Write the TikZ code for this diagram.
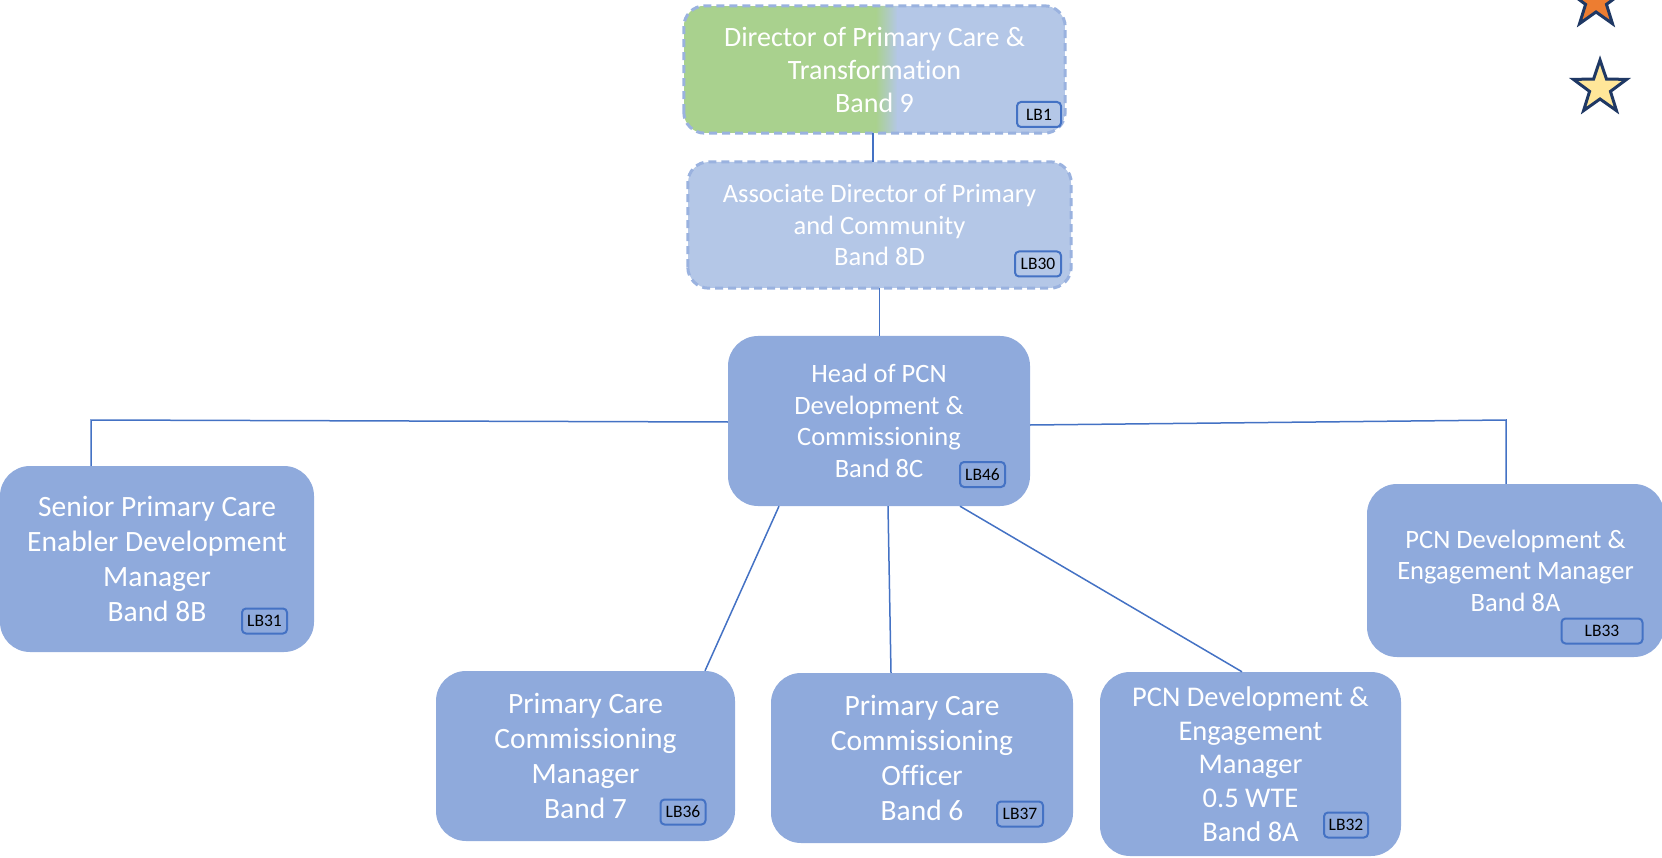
\documentclass[tikz,border=0pt]{standalone}
\usepackage{fontspec}
\setmainfont{Carlito}[Ligatures=NoCommon]
\usetikzlibrary{shapes.geometric,backgrounds,calc}
\definecolor{boxblue}{HTML}{8FAADC}
\definecolor{lightblue}{HTML}{B4C7E7}
\definecolor{dirgreen}{HTML}{A9D18E}
\definecolor{dashblue}{HTML}{9AB2DF}
\definecolor{lineblue}{HTML}{4472C4}
\definecolor{starnavy}{HTML}{1F3864}
\definecolor{starorange}{HTML}{ED7D31}
\definecolor{staryellow}{HTML}{FFE699}
\tikzset{
  rolebox/.style={rectangle, rounded corners=30pt, fill=boxblue, text=white, align=center, inner sep=0pt},
  topbox/.style={rectangle, rounded corners=21pt, text=white, align=center, inner sep=0pt},
  tagbox/.style={rectangle, draw=lineblue, line width=2pt, rounded corners=4pt, text=black, inner sep=0pt, minimum height=25pt, font=\fontsize{17.5pt}{20pt}\selectfont},
  conn/.style={draw=lineblue, line width=1.5pt},
  starshape/.style={star, star points=5, star point ratio=2.55, minimum size=56pt, inner sep=0pt, draw=starnavy, line width=3pt},
  dashborder/.style={draw=dashblue, line width=3pt, dash pattern=on 8pt off 5pt, rounded corners=21pt}
}
\begin{document}
\begin{tikzpicture}[x=1pt,y=-1pt]
\useasboundingbox (0,0) rectangle (1662,858);

% Director
\node[topbox, minimum width=381pt, minimum height=127pt, font=\fontsize{28pt}{33pt}\selectfont] (dir) at (874.5,69.5) {Director of Primary Care \&\\Transformation\\Band 9};
\begin{scope}[on background layer]
  \clip[rounded corners=21pt] (dir.south west) rectangle (dir.north east);
  \fill[dirgreen] (dir.south west) rectangle ([xshift=193pt]dir.north west);
  \shade[left color=dirgreen, right color=lightblue] ([xshift=192pt]dir.south west) rectangle ([xshift=214pt]dir.north west);
  \fill[lightblue] ([xshift=213pt]dir.south west) rectangle (dir.north east);
\end{scope}
\draw[dashborder] (dir.south west) rectangle (dir.north east);
\node[tagbox, minimum width=44pt] (t1) at (1039,114.5) {LB1};

% Associate Director
\node[topbox, fill=lightblue, minimum width=383pt, minimum height=126pt, font=\fontsize{26.5pt}{31.5pt}\selectfont] (assoc) at (879.5,225) {Associate Director of Primary\\and Community\\Band 8D};
\draw[dashborder] (assoc.south west) rectangle (assoc.north east);
\node[tagbox, minimum width=46pt] (t30) at (1038,264) {LB30};

% Head of PCN
\node[rolebox, minimum width=302pt, minimum height=170pt, font=\fontsize{26.5pt}{31.5pt}\selectfont] (head) at (879,421) {Head of PCN\\Development \&\\Commissioning\\Band 8C};
\node[tagbox, minimum width=45pt] (t46) at (982.5,474.5) {LB46};

% Senior
\node[rolebox, minimum width=314pt, minimum height=186pt, font=\fontsize{29.5pt}{35pt}\selectfont] (senior) at (157,559) {Senior Primary Care\\Enabler Development\\Manager\\Band 8B};
\node[tagbox, minimum width=45pt] (t31) at (264.5,621) {LB31};

% PCN right
\node[rolebox, minimum width=297pt, minimum height=173pt, font=\fontsize{26.5pt}{31.5pt}\selectfont] (pcnr) at (1515.5,570.5) {PCN Development \&\\Engagement Manager\\Band 8A};
\node[tagbox, minimum width=81pt] (t33) at (1602,631) {LB33};

% Bottom row
\node[rolebox, minimum width=299pt, minimum height=170pt, font=\fontsize{29.5pt}{35pt}\selectfont] (b1) at (585.5,756) {Primary Care\\Commissioning\\Manager\\Band 7};
\node[tagbox, minimum width=45pt] (t36) at (683,812) {LB36};

\node[rolebox, minimum width=302pt, minimum height=170pt, font=\fontsize{29.5pt}{35pt}\selectfont] (b2) at (922,758) {Primary Care\\Commissioning\\Officer\\Band 6};
\node[tagbox, minimum width=46pt] (t37) at (1020,814) {LB37};

\node[rolebox, minimum width=301pt, minimum height=184pt, font=\fontsize{28.5pt}{33.7pt}\selectfont] (b3) at (1250.5,764) {PCN Development \&\\Engagement\\Manager\\0.5 WTE\\Band 8A};
\node[tagbox, minimum width=44pt] (t32) at (1346,825) {LB32};

% Stars
\node[starshape, fill=starorange] (staro) at (1596,1) {};
\node[starshape, fill=staryellow] (stary) at (1600,88) {};

% Connectors
\draw[conn] ([xshift=-1.5pt]dir.south) -- ([xshift=-1.5pt]dir.south |- assoc.north);
\draw[conn] (assoc.south) -- (assoc.south |- head.north);
\coordinate (jl) at (91,420);
\coordinate (jr) at (1506,420);
\draw[conn] ([yshift=-1pt]head.west) -- (jl) -- (jl |- senior.north);
\draw[conn] ([yshift=-4pt]head.east) -- (jr) -- (jr |- pcnr.north);
\draw[conn] ([xshift=-100pt]head.south) -- ([xshift=119.5pt]b1.north);
\draw[conn] ([xshift=9pt]head.south) -- ([xshift=-31pt]b2.north);
\draw[conn] ([xshift=81pt]head.south) -- ([xshift=-8.5pt]b3.north);
\end{tikzpicture}
\end{document}
